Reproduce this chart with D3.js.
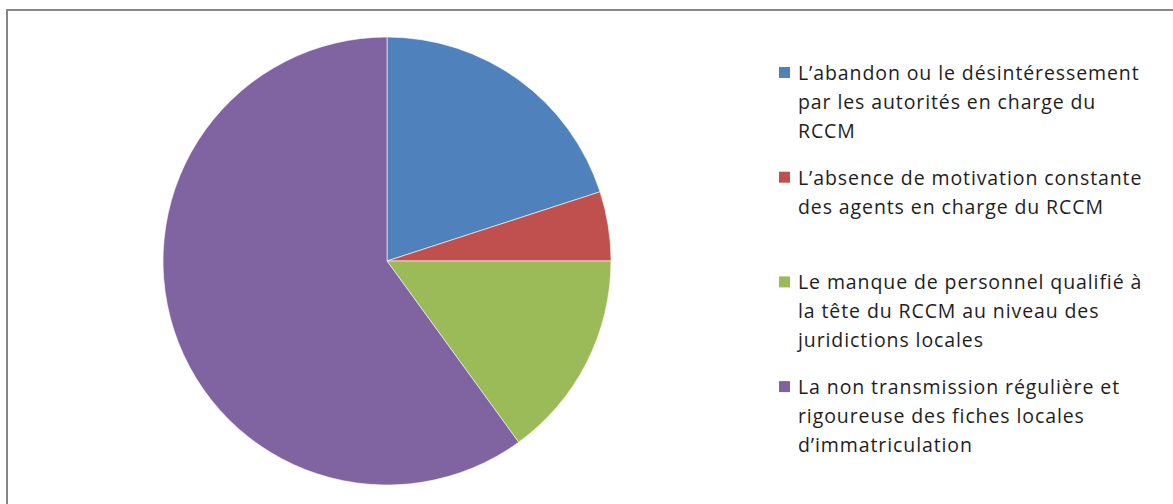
<!DOCTYPE html>
<html>
<head>
<meta charset="utf-8">
<script src="https://cdn.jsdelivr.net/npm/d3@7"></script>
<style>
  body { margin: 0; background: #fff; }
  svg { display: block; }
</style>
</head>
<body>
<div id="chart"></div>
<script>
// data (shares in %)
var labels = [
    ["L\u2019abandon ou le d\u00e9sint\u00e9ressement", "par les autorit\u00e9s en charge du", "RCCM"],
    ["L\u2019absence de motivation constante", "des agents en charge du RCCM"],
    ["Le manque de personnel qualifi\u00e9 \u00e0", "la t\u00eate du RCCM au niveau des", "juridictions locales"],
    ["La non transmission r\u00e9guli\u00e8re et", "rigoureuse des fiches locales", "d\u2019immatriculation"]
];
var values = [20, 5, 15, 60];
var colors = ["#4F81BD", "#C0504D", "#9BBB59", "#8064A2"];

var width = 1173, height = 504;
var cx = 387, cy = 261, radius = 224;

var svg = d3.select("#chart")
    .append("svg")
    .attr("width", width)
    .attr("height", height);

// chart area frame
svg.append("rect")
    .attr("x", 7)
    .attr("y", 10)
    .attr("width", width + 20)
    .attr("height", height + 20)
    .attr("fill", "none")
    .attr("stroke", "#878787")
    .attr("stroke-width", 2);

var pie = d3.pie().sort(null).value(function (d) { return d; });
var arc = d3.arc().innerRadius(0).outerRadius(radius);

var pieG = svg.append("g")
    .attr("transform", "translate(" + cx + "," + cy + ")");

pieG.selectAll("path")
    .data(pie(values))
    .enter()
    .append("path")
    .attr("d", arc)
    .attr("fill", function (d, i) { return colors[i]; })
    .attr("stroke", "#fff")
    .attr("stroke-width", 0.6);

// legend
var itemY = d3.scaleLinear().domain([0, 1]).range([73, 177.7]);
var lineH = 29;

var legend = svg.append("g").attr("class", "legend");

var items = legend.selectAll("g")
    .data(labels)
    .enter()
    .append("g")
    .attr("transform", function (d, i) { return "translate(0," + itemY(i) + ")"; });

items.append("rect")
    .attr("x", 779)
    .attr("y", -6)
    .attr("width", 11)
    .attr("height", 11)
    .attr("fill", function (d, i) { return colors[i]; });

items.selectAll("text")
    .data(function (d) { return d; })
    .enter()
    .append("text")
    .attr("x", 798)
    .attr("y", function (d, j) { return j * lineH; })
    .attr("dy", "0.35em")
    .attr("font-family", "'Open Sans', sans-serif")
    .attr("font-size", 19.5)
    .attr("letter-spacing", 0.9)
    .attr("fill", "#1e1e1e")
    .text(function (d) { return d; });
</script>
</body>
</html>
